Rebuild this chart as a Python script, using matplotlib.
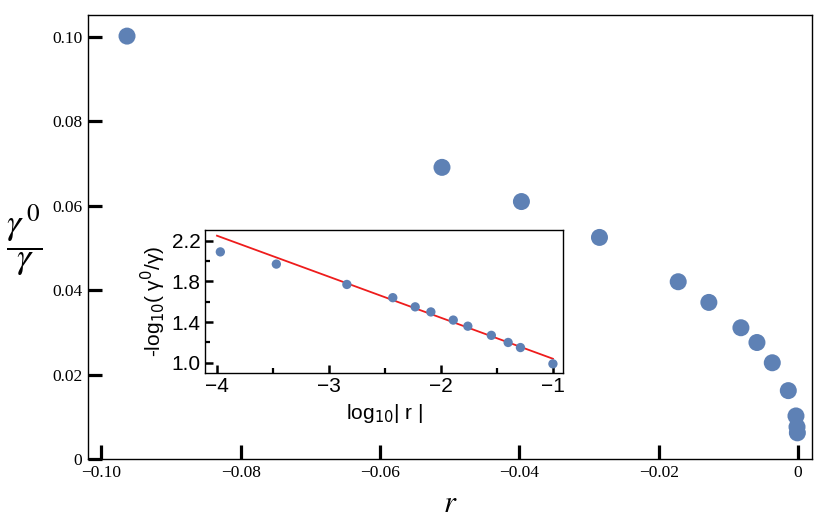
import matplotlib
matplotlib.use('Agg')
import matplotlib.pyplot as plt
import numpy as np
from matplotlib.ticker import MultipleLocator

# main panel: gamma^0/gamma against r
r_vals = [-0.0963, -0.0511, -0.0397, -0.0285, -0.0172, -0.0128, -0.0082,
          -0.0059, -0.0037, -0.0014, -0.0003, -0.00015, -0.0001]
ratio_vals = [0.1002, 0.0691, 0.0610, 0.0525, 0.0420, 0.0371, 0.0311,
              0.0276, 0.0228, 0.0162, 0.0102, 0.0076, 0.0062]
main_xticks = [-0.10, -0.08, -0.06, -0.04, -0.02, 0]
main_xticklabels = ['\u22120.10', '\u22120.08', '\u22120.06', '\u22120.04', '\u22120.02', '0']
main_yticks = [0, 0.02, 0.04, 0.06, 0.08, 0.10]
main_yticklabels = ['0', '0.02', '0.04', '0.06', '0.08', '0.10']

# inset: log-log view with linear fit
log_r = [-3.97, -3.47, -2.84, -2.43, -2.23, -2.09, -1.89, -1.76, -1.55, -1.40, -1.29, -1.00]
neg_log_ratio = [2.09, 1.97, 1.77, 1.64, 1.55, 1.50, 1.42, 1.36, 1.27, 1.20, 1.15, 0.99]
fit_slope = -0.403
fit_intercept = 0.637
fit_range = [-4.0, -1.0]
inset_xticks = [-4, -3, -2, -1]
inset_yticks = [1.0, 1.4, 1.8, 2.2]

dot = '#5E81B5'
serif = 'Liberation Serif'
sans = 'Liberation Sans'

fig = plt.figure(figsize=(8.39, 5.27), dpi=100)
ax = fig.add_axes([88/839, 68/527, 724/839, 444/527])
ax.scatter(r_vals, ratio_vals, s=150, color=dot, edgecolors='none', zorder=3)
ax.set_xlim(-0.1019, 0.002)
ax.set_ylim(0, 0.1052)
ax.set_xticks(main_xticks)
ax.set_xticklabels(main_xticklabels, family=serif, fontsize=12.5)
ax.set_yticks(main_yticks)
ax.set_yticklabels(main_yticklabels, family=serif, fontsize=12.5)
ax.tick_params(direction='in', length=10, width=2.3, pad=4)
for s in ax.spines.values():
    s.set_linewidth(1.0)
ax.set_xlabel('$r$', fontsize=22, math_fontfamily='stix', labelpad=6)
ax.set_ylabel(r'$\dfrac{\gamma^{\,0}}{\gamma}$', fontsize=26, math_fontfamily='stix',
              rotation=0, va='center', labelpad=20)
ax.yaxis.set_label_coords(-0.088, 0.493)

ins = fig.add_axes([205/839, 154/527, 358/839, 143/527])
ins.scatter(log_r, neg_log_ratio, s=45, color=dot, edgecolors='none', zorder=3)
fx = np.array(fit_range)
ins.plot(fx, fit_slope * fx + fit_intercept, color='#EE1C1C', lw=1.3, zorder=2)
ins.set_xlim(-4.107, -0.91)
ins.set_ylim(0.90, 2.305)
ins.set_xticks(inset_xticks)
ins.set_xticklabels(['\u2212%d' % abs(v) for v in inset_xticks], family=sans, fontsize=15)
ins.set_yticks(inset_yticks)
ins.set_yticklabels(['%.1f' % v for v in inset_yticks], family=sans, fontsize=15)
ins.xaxis.set_minor_locator(MultipleLocator(0.5))
ins.yaxis.set_minor_locator(MultipleLocator(0.2))
ins.tick_params(which='major', direction='in', length=6, width=1.8, pad=3)
ins.tick_params(which='minor', direction='in', length=3.5, width=1.6)
for s in ins.spines.values():
    s.set_linewidth(1.0)
ins.set_xlabel('log$_{10}$| r |', family=sans, fontsize=15, math_fontfamily='dejavusans', labelpad=4)
ins.set_ylabel('-log$_{10}$( \u03b3$^{0}$/\u03b3)', family=sans, fontsize=15,
               math_fontfamily='dejavusans', labelpad=3)

fig.savefig('out.png', dpi=100)
